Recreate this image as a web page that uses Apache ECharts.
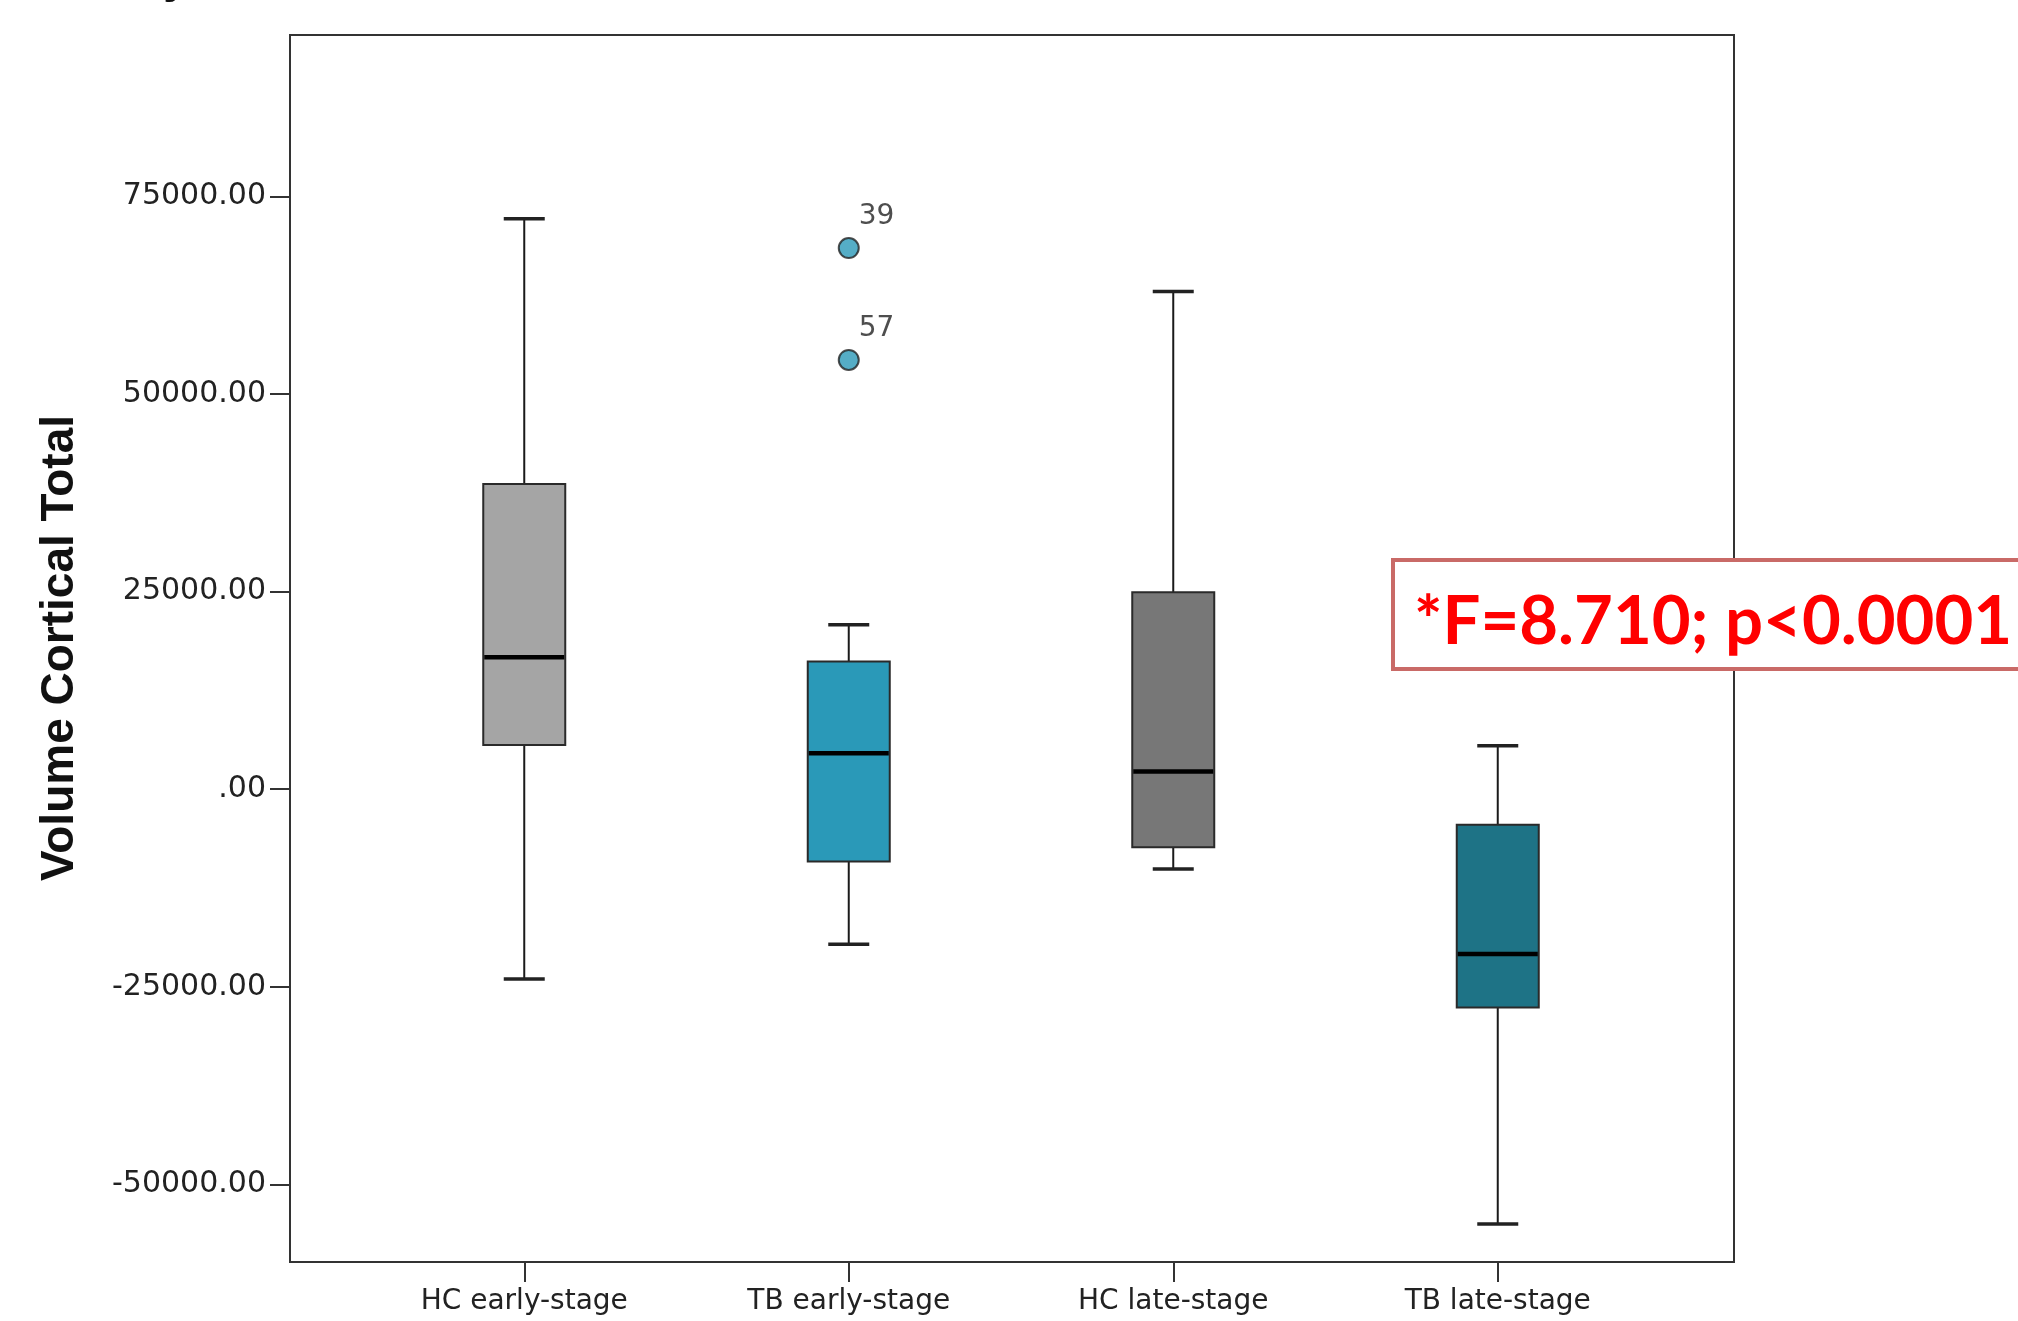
<!DOCTYPE html>
<html>
<head>
<meta charset="utf-8">
<script src="https://cdn.jsdelivr.net/npm/echarts@6/dist/echarts.min.js"></script>
<style>
html,body{margin:0;padding:0;background:#fff;}
#chart{width:2018px;height:1321px;}
</style>
</head>
<body>
<div id="chart"></div>
<script>
// ---- data ----
const categories = ['HC early-stage', 'TB early-stage', 'HC late-stage', 'TB late-stage'];
const whiskerLow  = [-24000, -19600, -10100, -55000];
const q1          = [5600, -9150, -7350, -27600];
const median      = [16700, 4550, 2250, -20850];
const q3          = [38600, 16150, 24900, -4500];
const whiskerHigh = [72150, 20800, 62950, 5500];
const outlierCategory = [1, 1];
const outlierValues   = [68450, 54300];
const outlierIds      = ['39', '57'];
const yTicks = [-50000, -25000, 0, 25000, 50000, 75000];
const yTitle = 'Volume Cortical Total';
const statText = '*F=8.710; p<0.0001';
const boxColors = ['#A5A5A5', '#2A99B8', '#777777', '#1E7386'];

// ---- chart ----
const chart = echarts.init(document.getElementById('chart'), null, {renderer: 'canvas'});
const Y_MIN = -59800, Y_MAX = 95400;

const boxData = categories.map((c, i) => ({
  value: [i, whiskerLow[i], q1[i], median[i], q3[i], whiskerHigh[i]],
  itemStyle: {color: boxColors[i]}
}));

function renderBox(params, api) {
  const i = api.value(0);
  const lo = api.coord([i, api.value(1)]);
  const b1 = api.coord([i, api.value(2)]);
  const md = api.coord([i, api.value(3)]);
  const b3 = api.coord([i, api.value(4)]);
  const hi = api.coord([i, api.value(5)]);
  const x = lo[0];
  const bw = 82, cw = 41;
  const fill = api.visual('color');
  const ln = {stroke: '#1a1a1a', lineWidth: 2};
  const cap = {stroke: '#222', lineWidth: 3.5};
  return {
    type: 'group',
    children: [
      {type: 'line', shape: {x1: x, y1: hi[1], x2: x, y2: b3[1]}, style: ln},
      {type: 'line', shape: {x1: x, y1: b1[1], x2: x, y2: lo[1]}, style: ln},
      {type: 'line', shape: {x1: x - cw / 2, y1: hi[1], x2: x + cw / 2, y2: hi[1]}, style: cap},
      {type: 'line', shape: {x1: x - cw / 2, y1: lo[1], x2: x + cw / 2, y2: lo[1]}, style: cap},
      {type: 'rect', shape: {x: x - bw / 2, y: b3[1], width: bw, height: b1[1] - b3[1]},
        style: {fill: fill, stroke: '#2a2a2a', lineWidth: 2}},
      {type: 'line', shape: {x1: x - bw / 2 + 1, y1: md[1], x2: x + bw / 2 - 1, y2: md[1]},
        style: {stroke: '#000', lineWidth: 4.5}}
    ]
  };
}

const option = {
  animation: false,
  backgroundColor: '#fff',
  grid: [
    {left: 290, top: 35, width: 1444, height: 1227, show: true, borderColor: '#333', borderWidth: 2, backgroundColor: 'transparent'},
    {left: 362, top: 35, width: 1298, height: 1227}
  ],
  xAxis: [
    {type: 'category', gridIndex: 0, data: categories, show: false},
    {type: 'category', gridIndex: 1, data: categories, boundaryGap: true, position: 'bottom',
      axisLine: {show: false, onZero: false},
      axisTick: {show: true, alignWithLabel: true, length: 20, lineStyle: {color: '#333', width: 2}},
      axisLabel: {margin: 26, color: '#222', fontFamily: 'DejaVu Sans', fontSize: 28},
      splitLine: {show: false}}
  ],
  yAxis: [
    {type: 'value', gridIndex: 0, min: Y_MIN, max: Y_MAX,
      axisLine: {show: true, lineStyle: {color: '#333', width: 2}},
      axisTick: {show: true, length: 20, customValues: yTicks, lineStyle: {color: '#333', width: 2}},
      axisLabel: {customValues: yTicks, margin: 24, color: '#222', fontFamily: 'DejaVu Sans', fontSize: 30,
        formatter: v => (v === 0 ? '.00' : Number(v).toFixed(2))},
      splitLine: {show: false}},
    {type: 'value', gridIndex: 1, min: Y_MIN, max: Y_MAX, show: false, splitLine: {show: false}}
  ],
  series: [
    {type: 'custom', xAxisIndex: 1, yAxisIndex: 1, renderItem: renderBox, data: boxData, z: 3},
    {type: 'scatter', xAxisIndex: 1, yAxisIndex: 1, z: 4,
      symbol: 'circle', symbolSize: 20,
      itemStyle: {color: '#2A99B8', borderColor: '#222', borderWidth: 2},
      data: outlierValues.map((v, k) => ({value: [outlierCategory[k], v], name: outlierIds[k]})),
      label: {show: true, formatter: p => p.name, position: [21, -20], align: 'left', verticalAlign: 'middle',
        color: '#222', fontFamily: 'DejaVu Sans', fontSize: 28}}
  ],
  graphic: [
    {type: 'text', x: 60, y: 648, rotation: Math.PI / 2,
      style: {text: yTitle, font: 'bold 46px "Liberation Sans", Arial, sans-serif', fill: '#111',
        align: 'center', verticalAlign: 'middle'}},
    {type: 'text', x: 176, y: -21,
      style: {text: 'y', font: 'bold 46px "Liberation Sans", Arial, sans-serif', fill: '#111',
        align: 'center', verticalAlign: 'middle'}},
    {type: 'rect', z: 10, shape: {x: 1393, y: 560, width: 700, height: 109},
      style: {fill: '#fff', stroke: '#C96A67', lineWidth: 4}},
    {type: 'text', z: 11, x: 1414, y: 622,
      style: {text: statText, font: 'bold 67px Lato, "Open Sans", sans-serif', fill: '#FF0000',
        align: 'left', verticalAlign: 'middle'}}
  ]
};
chart.setOption(option);
</script>
</body>
</html>
